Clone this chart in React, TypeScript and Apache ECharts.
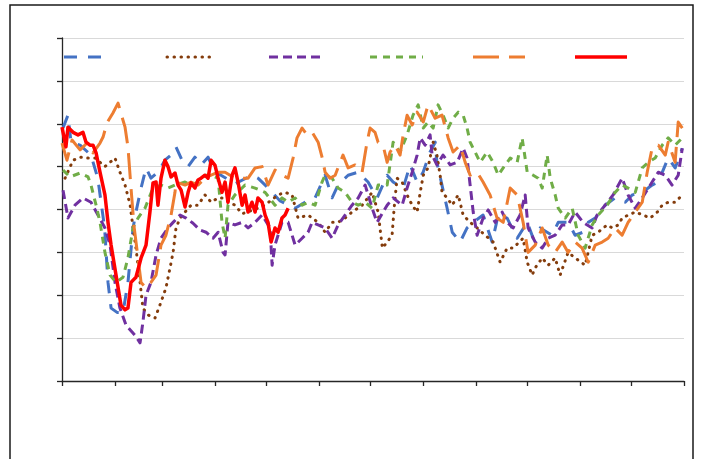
import React, { useEffect, useRef } from "react";
import * as echarts from "echarts";

// x = day of year (0..365), y = value (0..80)
const monthStarts = [0, 31, 59, 90, 120, 151, 181, 212, 243, 273, 304, 334, 365];

const blueData: [number, number][] = [
  [0.6, 59], [3.5, 62], [5.3, 55.7], [10.6, 55], [17, 52.7], [21, 47.3], [25, 35.7], [27, 23], [28.8, 17],
  [32.3, 16], [35.8, 16], [38.7, 23], [41.7, 35.7], [43.4, 39.4], [46.4, 45], [49.3, 49.7], [52.2, 47.3],
  [56.3, 48.7], [60.4, 51.5], [64, 52.7], [66.9, 54.6], [71, 51], [74, 50], [78, 52.2], [81.6, 50.4],
  [85.7, 52.2], [89.8, 48.7], [93.3, 48], [101.5, 46], [111.5, 48], [115, 47.3], [121, 45], [128, 42],
  [136.8, 40.3], [142.6, 41.7], [148.5, 42.7], [154.4, 48], [158.5, 42.7], [162, 45.7], [167.9, 48],
  [173.8, 48.7], [179.6, 46.4], [184.9, 42.7], [190.8, 48], [194.3, 46.4], [200.2, 45], [204.3, 50.4],
  [208.4, 46.4], [211.9, 48.7], [216, 53.4], [219, 55.7], [220, 51], [226, 40.3], [229, 34.7], [233.6, 32.4],
  [237.7, 35.7], [241.3, 37], [247.1, 38.7], [252.4, 32.4], [256, 38.7], [261.2, 38], [267.1, 33.3],
  [273, 37], [276.5, 33.3], [280.6, 35.7], [287.6, 34], [291.2, 37], [297, 37], [301.1, 34], [305.8, 34.7],
  [308.8, 37], [312.9, 38], [318.7, 41], [324.6, 42.7], [330.5, 41.7], [334.6, 43.4], [340.5, 44],
  [346.3, 45.7], [349.9, 46.4], [355.7, 52], [359.8, 49.7], [364, 54.3],
];

const brownData: [number, number][] = [
  [1.8, 47.3], [6.5, 51.5], [11.2, 52.2], [15.3, 52], [19.4, 52], [25.2, 50], [31.1, 52], [34, 48.7],
  [37, 45.7], [40, 41], [41.7, 35.7], [43.4, 31], [45.8, 23], [47.5, 17], [50.5, 15.4], [54.6, 14.7],
  [58.1, 18.4], [61, 21.7], [63.4, 26.4], [65.2, 30], [66.9, 35.7], [69.3, 38], [72.2, 39.4], [75.7, 41],
  [79.8, 41], [83.9, 43.4], [87.5, 41.7], [91.6, 42.7], [93.9, 42.7], [101.5, 41], [105.7, 39], [113, 40],
  [119, 41], [126.8, 43.4], [130.9, 44], [135, 43.4], [138.5, 38], [144.4, 38.7], [150.3, 37], [154.4, 34.7],
  [158.5, 37], [162, 37], [166.1, 38], [170.2, 39.4], [176.1, 41], [182, 44], [185.5, 39.4], [188, 31],
  [190.8, 32.4], [193.7, 34], [194.9, 40.3], [196.6, 47.3], [199.6, 46.4], [202.5, 43.4], [205.5, 41],
  [208.4, 39.4], [210.2, 44], [212, 48], [214.8, 49.7], [217.8, 55.7], [220, 52.7], [221.9, 48], [223, 44],
  [226, 42.7], [229, 41], [232.5, 43.4], [235.4, 38.7], [239.5, 37], [243.6, 35.7], [248.3, 34],
  [253, 32.4], [257.1, 27.7], [261.2, 31], [264.7, 31], [270.6, 33.3], [273, 27.7], [275.9, 24.7],
  [277.7, 26.4], [281.8, 28.7], [285.3, 27], [289.4, 28.7], [292.3, 24.7], [297, 30], [301.1, 28.7],
  [307, 27], [311.1, 34], [314.6, 34.7], [319.9, 36.4], [322.9, 35.7], [326.4, 36.4], [328.7, 38],
  [332.2, 38.7], [336.4, 39.4], [341, 38.7], [345.2, 38], [349.3, 39.4], [352.2, 41], [355.7, 41.7],
  [359.8, 41.7], [364, 43.4],
];

const purpleData: [number, number][] = [
  [0.6, 44.5], [3.5, 38], [7.6, 41], [12.3, 42.7], [17, 41.7], [21.1, 38.7], [25.2, 35.7], [28.2, 31.7],
  [31.1, 23], [34, 17], [37.6, 13], [42.8, 10.7], [45.8, 8.9], [47.5, 13.8], [49.3, 20], [52.2, 23],
  [55.2, 29.4], [58.1, 33.3], [62.2, 35.7], [65.2, 37], [69.3, 38.7], [72.8, 38], [76.9, 36.8], [81, 35.2],
  [84.5, 34.7], [88.6, 33.3], [91.6, 34.7], [94.5, 30], [95.7, 29.4], [97.4, 37], [101.5, 36.4],
  [105.7, 37], [109.2, 35.7], [113.3, 37], [117.4, 38.7], [122.1, 35.7], [123.3, 27], [125, 31.7],
  [129.1, 37], [132.7, 37], [136.8, 31.7], [140.9, 33.3], [144.4, 34.7], [146.8, 37], [150.3, 36.4],
  [154.4, 35.7], [158.5, 33.3], [162, 36.4], [166.1, 38.7], [170.2, 41], [173.8, 42.7], [177.9, 45.7],
  [182, 40.3], [184.9, 37], [190.8, 41], [194.3, 42.7], [199.6, 41], [202.5, 45], [205.5, 48.7],
  [208.4, 52.7], [210.2, 56.7], [213.1, 55], [216, 57.4], [217.2, 52.7], [220, 50.4], [223.6, 52.7],
  [227.8, 50.4], [231.9, 51], [235.4, 54.3], [237.7, 52], [239.5, 45.7], [241.3, 39.4], [243.6, 34],
  [247.1, 38], [250.1, 39.9], [254.2, 37], [258.3, 39.4], [261.2, 37], [264.7, 35.7], [268.8, 38.7],
  [271.8, 43.4], [273.5, 35.7], [277.7, 32.4], [281.8, 31], [285.3, 33.3], [289.4, 34], [293.5, 36.4],
  [297, 36.4], [301.1, 39.4], [305.8, 37], [311.1, 35.7], [314, 38.7], [318.7, 41], [323.4, 43.4],
  [328.7, 47.3], [332.2, 43.4], [336.4, 40.3], [340.5, 42.7], [346.3, 46.4], [349.9, 48.7], [354, 48],
  [358, 45.7], [361.6, 48], [364, 54.3],
];

const greenData: [number, number][] = [
  [0.6, 49.2], [4.7, 47.6], [10.6, 48.5], [15.3, 47.6], [17, 45.7], [20, 41], [22.3, 37], [25.2, 30],
  [28.2, 24.7], [31.7, 23], [35.8, 24.2], [38.7, 28.7], [41.7, 35.7], [44.6, 38], [48.7, 40.3], [53.4, 45],
  [58.1, 45.7], [62.2, 45], [66.3, 45.7], [72.2, 46.4], [75.7, 45.7], [79.8, 46.4], [83.9, 48], [87.5, 48],
  [91.6, 47.3], [93.9, 37], [95.7, 33.3], [97.4, 41], [101.5, 43.4], [107.4, 45.7], [113.3, 45], [119.2, 44],
  [125, 41], [129.1, 42.7], [132.7, 41.7], [136.8, 42.7], [140.9, 41], [144.4, 41.7], [148.5, 41],
  [152.6, 46.4], [154.4, 48], [158.5, 47.3], [162, 45], [166.1, 44], [170.2, 41.7], [173.8, 41],
  [177.9, 41.7], [182, 40.3], [185.5, 45.7], [190.8, 45.7], [194.3, 55.7], [198.4, 53.4], [202.5, 57.4],
  [206, 62], [209, 64.4], [212, 59], [214.8, 60.4], [217.8, 59], [220.7, 64.4], [223.6, 62], [226.6, 59],
  [229.5, 61.3], [232.5, 62.7], [235.4, 62], [237.7, 59], [239.5, 55.7], [242.4, 53.4], [245.4, 51],
  [249.5, 53.4], [253, 51], [256, 48], [258.9, 49.7], [263, 52], [267.1, 51], [270, 56.7], [273, 48.7],
  [276.5, 48], [279.4, 47.3], [281.8, 45], [284.7, 52.7], [286.5, 47.3], [289.4, 43.4], [291.2, 40.3],
  [295.3, 38], [299.4, 40.3], [302.9, 34], [307, 31], [311.1, 36.4], [314.6, 38.7], [319.9, 41],
  [324.6, 44], [328.7, 45.7], [332.2, 45], [336.4, 44], [340.5, 49.7], [344, 51], [348.1, 52], [352.2, 55],
  [355.7, 56.7], [359.8, 55], [364, 56.7],
];

const orangeData: [number, number][] = [
  [0, 55.5], [2.9, 51.5], [5.9, 56.2], [10.6, 53.9], [14.7, 55.5], [18.2, 53.2], [22.3, 55.5], [24.1, 56.9],
  [26.4, 60.2], [29.9, 62.5], [32.9, 64.8], [35.2, 61.6], [37, 59.2], [38.7, 54.6], [40.5, 45], [42.3, 36],
  [44.6, 28.7], [46.4, 23], [49.3, 21.7], [52.2, 23], [55.2, 24.7], [58.1, 31.7], [61, 34], [64, 38.7],
  [66.3, 44], [66.9, 46.4], [72.2, 45.7], [75.7, 46.4], [79.8, 45.7], [83.9, 47.3], [87.5, 48], [91.6, 48.7],
  [95.7, 48.7], [101.5, 47.3], [109.2, 47.3], [113.3, 49.7], [117.4, 50], [120.9, 45.7], [125, 49.2],
  [129.1, 48], [132.7, 47.3], [135.6, 52], [137.9, 56.7], [140.9, 59], [143.8, 57.4], [146.8, 58],
  [150.3, 55.7], [152.6, 52.2], [154.4, 48.7], [157.3, 47.3], [160.3, 48], [164.9, 52.7], [167.9, 49.7],
  [172, 50.4], [176.1, 48.7], [179, 55.7], [180.8, 59], [183.7, 58], [185.5, 55.7], [188.4, 55],
  [190.8, 51], [192.5, 53.4], [195.5, 55], [198.4, 52.7], [200.2, 57.4], [202.5, 62], [205.5, 59.7],
  [208.4, 62.7], [212, 60.4], [214.8, 64.4], [219, 61.3], [223, 62], [226.6, 56.7], [229.5, 53.4],
  [233.6, 55], [236.6, 51], [239.5, 48], [243.6, 48.7], [247.1, 46.4], [251.2, 43.4], [255.3, 38],
  [258.9, 37], [263, 45], [267.1, 43.4], [270.6, 37], [273.5, 30], [277.7, 31.7], [281.8, 35.7],
  [285.3, 31.7], [289.4, 30], [293.5, 32.4], [297, 30], [301.1, 32.4], [305.2, 31], [308.8, 27.7],
  [312.9, 31.7], [317, 32.4], [320.5, 33.3], [324.6, 35.7], [328.7, 34], [332.2, 37], [336.4, 39.4],
  [340.5, 41.7], [343.4, 48.7], [346.3, 54.3], [349.9, 55], [354, 52.7], [355.7, 55.7], [359.8, 51],
  [361.6, 60.4], [364, 59],
];

const redData: [number, number][] = [
  [0, 59.2], [2.3, 54.6], [3.5, 59.2], [6.5, 58], [9.4, 57.4], [12.3, 58], [14.1, 55.7], [16.4, 55],
  [18.2, 55], [20, 53.2], [22.3, 48.7], [25.2, 43.4], [27, 37], [28.8, 31.7], [31.7, 24.7], [34.6, 17.7],
  [37, 16.6], [38.7, 17], [40.5, 23], [43.4, 24.2], [46.4, 28.7], [49.3, 31.7], [51.6, 39.4], [53.4, 46.2],
  [55.2, 46.4], [56.3, 41], [58.1, 47.3], [60.4, 51.5], [62.2, 50], [64, 47.6], [66.3, 48.5], [68.1, 45.7],
  [69.9, 44.5], [72.2, 40.6], [74, 44], [75.7, 46.2], [78, 45], [79.8, 46.9], [81.6, 47.3], [83.9, 48],
  [85.7, 47.3], [87.5, 51.5], [89.8, 50.3], [91.6, 47.3], [93.9, 44], [95.7, 46.4], [97.4, 41.7],
  [99.8, 48], [101.5, 49.7], [103.3, 46.4], [105.7, 41], [107.4, 43.4], [109.2, 39.4], [111.5, 41.7],
  [113.3, 39.4], [115, 42.7], [117.4, 41.7], [119.2, 38.7], [120.9, 37], [122.7, 32.4], [125, 35.7],
  [126.8, 34.7], [129.1, 38], [130.9, 38.7], [132.7, 40.3],
];

const seriesDefs = [
  { name: "s1", data: blueData, color: "#4472C4", dash: [13, 11] as number[] | string, width: 3, cap: "butt" },
  { name: "s2", data: brownData, color: "#843C0C", dash: [0.5, 6.5] as number[] | string, width: 3, cap: "round" },
  { name: "s3", data: purpleData, color: "#7030A0", dash: [9, 5] as number[] | string, width: 3, cap: "butt" },
  { name: "s4", data: greenData, color: "#70AD47", dash: [7, 6] as number[] | string, width: 3, cap: "butt" },
  { name: "s5", data: orangeData, color: "#ED7D31", dash: [26, 10] as number[] | string, width: 3, cap: "butt" },
  { name: "s6", data: redData, color: "#FF0000", dash: "solid" as number[] | string, width: 3.5, cap: "butt" },
];

const legendX = [64, 167, 269, 370, 473, 575];
const legendW = [39, 47, 53, 53, 52, 52];

export default function App() {
  const ref = useRef<HTMLDivElement>(null);
  useEffect(() => {
    if (!ref.current) return;
    const chart = echarts.init(ref.current, undefined, { renderer: "svg" });
    const graphic: any[] = [
      {
        type: "rect",
        shape: { x: 10, y: 5, width: 683, height: 500 },
        style: { fill: "none", stroke: "#1a1a1a", lineWidth: 1.5 },
        silent: true,
      },
    ];
    seriesDefs.forEach((s, i) => {
      graphic.push({
        type: "line",
        shape: { x1: legendX[i], y1: 57, x2: legendX[i] + legendW[i], y2: 57 },
        style: {
          stroke: s.color,
          lineWidth: s.width,
          lineDash: s.dash === "solid" ? null : s.dash,
          lineCap: s.cap,
        },
        silent: true,
      });
    });
    chart.setOption({
      animation: false,
      backgroundColor: "#ffffff",
      grid: { left: 62, right: 17, top: 38, bottom: 78, containLabel: false },
      xAxis: {
        type: "value",
        min: 0,
        max: 365,
        axisLine: { show: true, lineStyle: { color: "#262626", width: 1.3 } },
        axisTick: { show: true, length: 5, customValues: monthStarts, lineStyle: { color: "#262626", width: 1.3 } },
        axisLabel: { show: false },
        splitLine: { show: false },
      },
      yAxis: {
        type: "value",
        min: 0,
        max: 80,
        interval: 10,
        axisLine: { show: true, lineStyle: { color: "#262626", width: 1.3 } },
        axisTick: { show: true, length: 5, lineStyle: { color: "#262626", width: 1.3 } },
        axisLabel: { show: false },
        splitLine: { show: true, lineStyle: { color: "#d9d9d9", width: 1 } },
      },
      graphic,
      series: seriesDefs.map((s) => ({
        name: s.name,
        type: "line",
        data: s.data,
        showSymbol: false,
        symbol: "none",
        smooth: false,
        lineStyle: { color: s.color, width: s.width, type: s.dash, cap: s.cap, join: "round" },
        itemStyle: { color: s.color },
      })),
    });
    return () => chart.dispose();
  }, []);
  return (
    <div
      ref={ref}
      style={{ position: "fixed", left: 0, top: 0, width: 701, height: 459, background: "#fff" }}
    />
  );
}
